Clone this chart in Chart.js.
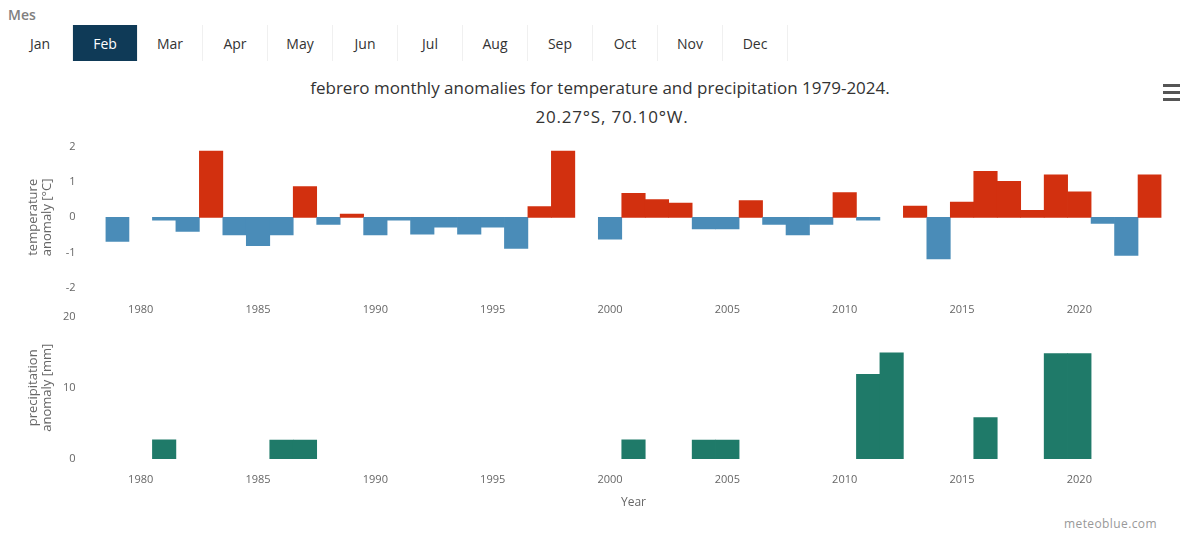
<!DOCTYPE html>
<html>
<head>
<meta charset="utf-8">
<script src="https://cdn.jsdelivr.net/npm/chart.js@4/dist/chart.umd.min.js"></script>
<style>
  html, body { margin: 0; padding: 0; background: #fff; }
  body { width: 1182px; height: 536px; position: relative; overflow: hidden; font-family: "Open Sans", "Noto Sans", sans-serif; }
  .mes { position: absolute; left: 8px; top: 5px; font-size: 14px; font-weight: 600; color: #808080; }
  .tabs { position: absolute; left: 8px; top: 25px; height: 36px; display: flex; }
  .tab { width: 65px; height: 36px; line-height: 38px; text-align: center; font-size: 14px; color: #333; box-sizing: border-box; border-right: 1px solid #f0f0f0; }
  .tab.active { background: #0f3a57; color: #fff; }
  .title { position: absolute; font-size: 17px; color: #333; white-space: nowrap; transform: translateX(-50%); }
  .menu { position: absolute; left: 1163px; top: 84px; width: 17px; }
  .menu div { height: 3px; background: #555; margin-bottom: 4px; }
  .credit { position: absolute; left: 1064px; top: 515px; font-size: 12px; letter-spacing: 0.4px; color: #999; }
  canvas { position: absolute; left: 0; }
  #tempChart { top: 110px; }
  #precChart { top: 280px; }
</style>
</head>
<body>
<div class="mes">Mes</div>
<div class="tabs" id="tabs"></div>
<div class="title" style="left:600px; top:76px;">febrero monthly anomalies for temperature and precipitation 1979-2024.</div>
<div class="title" style="left:612px; top:105px; letter-spacing: 0.8px;">20.27°S, 70.10°W.</div>
<div class="menu"><div></div><div></div><div></div></div>
<div class="credit">meteoblue.com</div>
<canvas id="tempChart" width="1182" height="220"></canvas>
<canvas id="precChart" width="1182" height="256"></canvas>
<script>
// Month selector
const months = ['Jan','Feb','Mar','Apr','May','Jun','Jul','Aug','Sep','Oct','Nov','Dec'];
const activeMonth = 'Feb';

// Years on the shared x axis
const years = [];
for (let y = 1979; y <= 2023; y++) years.push(String(y));

// February temperature anomaly [°C], 1979–2023 (null = no value)
const tempAnomaly = [
  -0.68, null, -0.08, -0.40, 1.87, -0.50, -0.80, -0.50, 0.87, -0.20,
   0.09, -0.50, -0.08, -0.48, -0.28, -0.48, -0.28, -0.88, 0.30, 1.87,
   null, -0.62, 0.68, 0.50, 0.40, -0.33, -0.33, 0.47, -0.20, -0.50,
  -0.20, 0.70, -0.08, null, 0.32, -1.18, 0.43, 1.30, 1.02, 0.20,
   1.20, 0.72, -0.17, -1.08, 1.20
];

// February precipitation anomaly [mm], 1979–2023 (null = no bar)
const precAnomaly = [
  null, null, 2.7, null, null, null, null, 2.65, 2.65, null,
  null, null, null, null, null, null, null, null, null, null,
  null, null, 2.7, null, null, 2.65, 2.65, null, null, null,
  null, null, 11.9, 14.9, null, null, null, 5.8, null, null,
  14.8, 14.8, null, null, null
];

const tempTicks = [-2, -1, 0, 1, 2];
const precTicks = [0, 10, 20];

const warmColor = '#d2300f';
const coldColor = '#4a8cb8';
const precColor = '#1f7a69';

// Build tab row
const tabsEl = document.getElementById('tabs');
months.forEach(m => {
  const d = document.createElement('div');
  d.className = 'tab' + (m === activeMonth ? ' active' : '');
  d.textContent = m;
  tabsEl.appendChild(d);
});

const tickFont = { family: '"Open Sans", sans-serif', size: 11 };
const titleFont = { family: '"Open Sans", sans-serif', size: 13, lineHeight: 1.1 };
const axisColor = '#666';

function xAxis(height, padding, title) {
  return {
    type: 'category',
    grid: { display: false, drawTicks: false },
    border: { display: false },
    ticks: {
      autoSkip: false, maxRotation: 0, color: axisColor, font: tickFont, padding: padding,
      callback: function (v) { const y = +this.getLabelForValue(v); return y % 5 === 0 ? String(y) : ''; }
    },
    title: title,
    afterFit: s => { s.height = height; }
  };
}

function yAxis(min, max, ticks, titleText) {
  return {
    min: min, max: max,
    grid: { display: false, drawTicks: false },
    border: { display: false },
    afterBuildTicks: s => { s.ticks = ticks.map(v => ({ value: v })); },
    ticks: { color: axisColor, font: tickFont, padding: 30 },
    title: { display: true, text: titleText, color: axisColor, font: titleFont, padding: { top: 26, bottom: 0 } },
    afterFit: s => { s.width = 105.5; }
  };
}

const common = {
  responsive: false,
  animation: false,
  plugins: { legend: { display: false }, tooltip: { enabled: false } }
};

new Chart(document.getElementById('tempChart'), {
  type: 'bar',
  data: {
    labels: years,
    datasets: [{
      data: tempAnomaly,
      backgroundColor: tempAnomaly.map(v => v !== null && v >= 0 ? warmColor : coldColor),
      borderWidth: 0,
      barPercentage: 1,
      categoryPercentage: 1
    }]
  },
  options: Object.assign({}, common, {
    layout: { autoPadding: false, padding: { left: 0, right: 20.5, top: 16, bottom: 0 } },
    scales: {
      x: xAxis(42, 15, { display: false }),
      y: yAxis(-2, 2, tempTicks, ['temperature', 'anomaly [°C]'])
    }
  })
});

new Chart(document.getElementById('precChart'), {
  type: 'bar',
  data: {
    labels: years,
    datasets: [{
      data: precAnomaly,
      backgroundColor: precColor,
      borderWidth: 0,
      barPercentage: 1,
      categoryPercentage: 1
    }]
  },
  options: Object.assign({}, common, {
    layout: { autoPadding: false, padding: { left: 0, right: 20.5, top: 16, bottom: 0 } },
    scales: {
      x: xAxis(77, 14, { display: true, text: 'Year', color: axisColor, font: { family: '"Open Sans", sans-serif', size: 12 }, padding: { top: 0, bottom: 26 } }),
      y: yAxis(0, 20, precTicks, ['precipitation', 'anomaly [mm]'])
    }
  })
});
</script>
</body>
</html>
